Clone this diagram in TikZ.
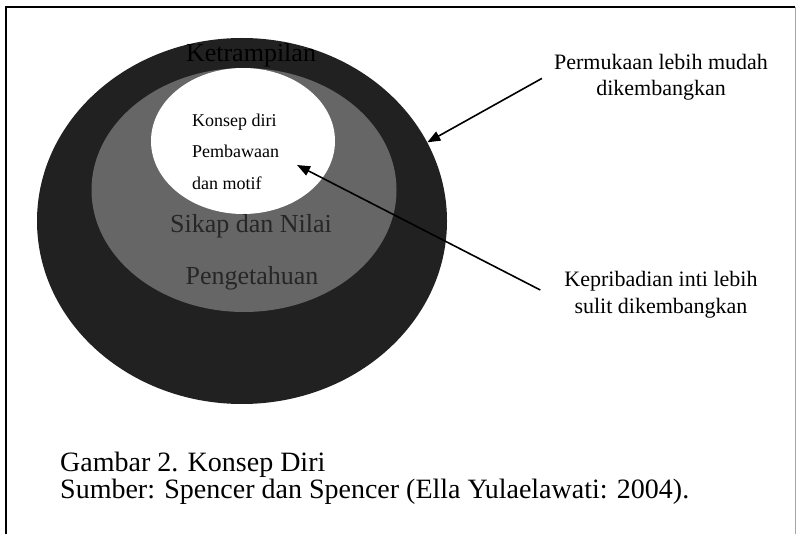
\documentclass[tikz,border=0pt]{standalone}
\usepackage{fontspec}
\setmainfont{Liberation Serif}
\usetikzlibrary{shapes.geometric,arrows.meta}
\begin{document}
\begin{tikzpicture}[x=1pt,y=-1pt,
    ring/.style={ellipse,inner sep=0pt,draw=none},
    sidelbl/.style={inner sep=0pt,anchor=base,font=\fontsize{22}{26}\selectfont},
    corelbl/.style={inner sep=0pt,anchor=base west,font=\fontsize{18}{22}\selectfont},
    ringlbl/.style={inner sep=0pt,anchor=base,font=\fontsize{26}{30}\selectfont},
    figlbl/.style={inner sep=0pt,anchor=base west,font=\fontsize{28}{30}\selectfont},
    arr/.style={line width=1.6pt,-{Triangle[length=13pt,width=10pt]}}]
      \useasboundingbox (0,0) rectangle (797,534);
      \draw[line width=2.5pt] (6,534) -- (6,7) -- (795,7);
      \draw[black!35,line width=1pt] (795.5,7) -- (795.5,534);
      \node[ring,fill=black!87,minimum width=410pt,minimum height=366pt] (o) at (242,221) {};
      \node[ring,fill=black!60,minimum width=305pt,minimum height=244pt] (m) at (244,190) {};
      \node[ring,fill=white,minimum width=184pt,minimum height=146pt] (c) at (243,141) {};
      \node[ringlbl,text=black] (k) at (251,62) {Ketrampilan};
      \node[corelbl] (c1) at (192,127) {Konsep diri};
      \node[corelbl] (c2) at (192,158) {Pembawaan};
      \node[corelbl] (c3) at (192,190) {dan motif};
      \node[ringlbl,text=black!85] (s) at (251,233) {Sikap dan Nilai};
      \node[ringlbl,text=black!85] (g) at (252,285) {Pengetahuan};
      \node[sidelbl] (p1) at (661,70) {Permukaan lebih mudah};
      \node[sidelbl] (p2) at (661,96) {dikembangkan};
      \node[sidelbl] (q1) at (661,287) {Kepribadian inti lebih};
      \node[sidelbl] (q2) at (661,313) {sulit dikembangkan};
      \coordinate (ct) at (297,165);
      \draw[arr] ([xshift=-12pt,yshift=-8pt]p1.south west) -- (o.23);
      \draw[arr] ([xshift=-24pt,yshift=-3pt]q1.base west) -- (ct);
      \node[figlbl] (f1) at (60,471) {Gambar 2. Konsep Diri};
      \node[figlbl] (f2) at (60,498) {Sumber: Spencer dan Spencer (Ella Yulaelawati: 2004).};
    \end{tikzpicture}
\end{document}
